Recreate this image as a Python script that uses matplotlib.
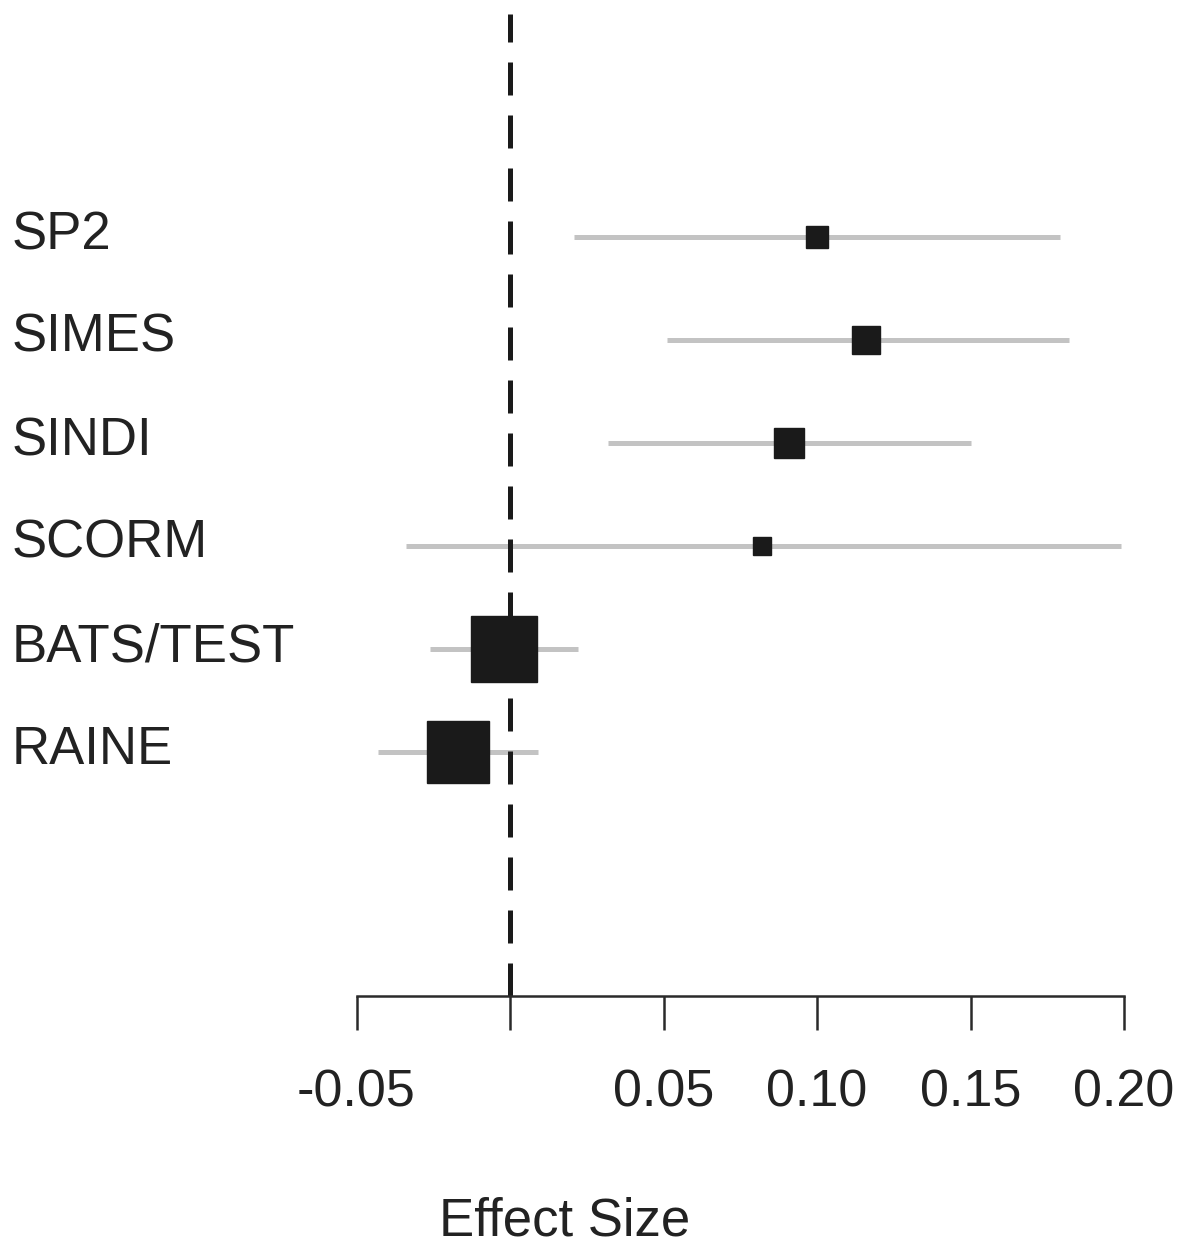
import numpy as np
import matplotlib.pyplot as plt

plt.rcParams['font.family'] = ['Liberation Sans', 'DejaVu Sans']

# study estimates and 95% CI
studies = ["SP2", "SIMES", "SINDI", "SCORM", "BATS/TEST", "RAINE"]
effect = [0.100, 0.116, 0.091, 0.082, -0.002, -0.017]
lower = [0.021, 0.051, 0.032, -0.034, -0.026, -0.043]
upper = [0.179, 0.182, 0.150, 0.199, 0.022, 0.009]
weight = [16, 19.5, 21, 12.5, 48, 45]   # square side (pt), study weight
ticks = [-0.05, 0.0, 0.05, 0.10, 0.15, 0.20]
tick_labels = ["-0.05", "", "0.05", "0.10", "0.15", "0.20"]

W, H = 1195, 1248
fig = plt.figure(figsize=(W / 100, H / 100), dpi=100)
ax = fig.add_axes([0, (H - 996) / H, 1, 996 / H])

rows = np.arange(len(studies), 0, -1)
txt = '#222222'

for y, lo, hi, e, s, name in zip(rows, lower, upper, effect, weight, studies):
    ax.plot([lo, hi], [y, y], color='#c3c3c3', lw=3.6, solid_capstyle='butt', zorder=1)
    ax.plot(e, y, marker='s', ms=s, color='#1a1a1a', mec='#1a1a1a', zorder=3)
    ax.text(12 / W, y - 12 / 103, name, transform=ax.get_yaxis_transform(),
            ha='left', va='baseline', fontsize=38, color=txt)

# pixel 0 -> x=-0.1661, 3070 px per unit
ax.set_xlim(-510 / 3070, (W - 510) / 3070)
ax.set_ylim(6 - (996 - 237) / 103, 6 + 237 / 103)

ax.axvline(0, ymin=0, ymax=(996 - 14) / 996, color='#1a1a1a', lw=3.6,
           linestyle=(0, (6.6, 4.0)), zorder=2)

for sp in ['top', 'right', 'left']:
    ax.spines[sp].set_visible(False)
ax.spines['bottom'].set_bounds(-0.05, 0.20)
ax.spines['bottom'].set_linewidth(1.8)
ax.spines['bottom'].set_color('#2a2a2a')
ax.set_yticks([])
ax.set_xticks(ticks)
ax.set_xticklabels(tick_labels)
ax.tick_params(axis='x', direction='out', length=24.5, width=1.8, color='#2a2a2a',
               pad=28, labelsize=37.5, labelcolor=txt)
ax.patch.set_alpha(0)

fig.text(565 / W, (H - 1221) / H, "Effect Size", ha='center', va='center',
         fontsize=38, color=txt)

fig.savefig("out.png", dpi=100)
